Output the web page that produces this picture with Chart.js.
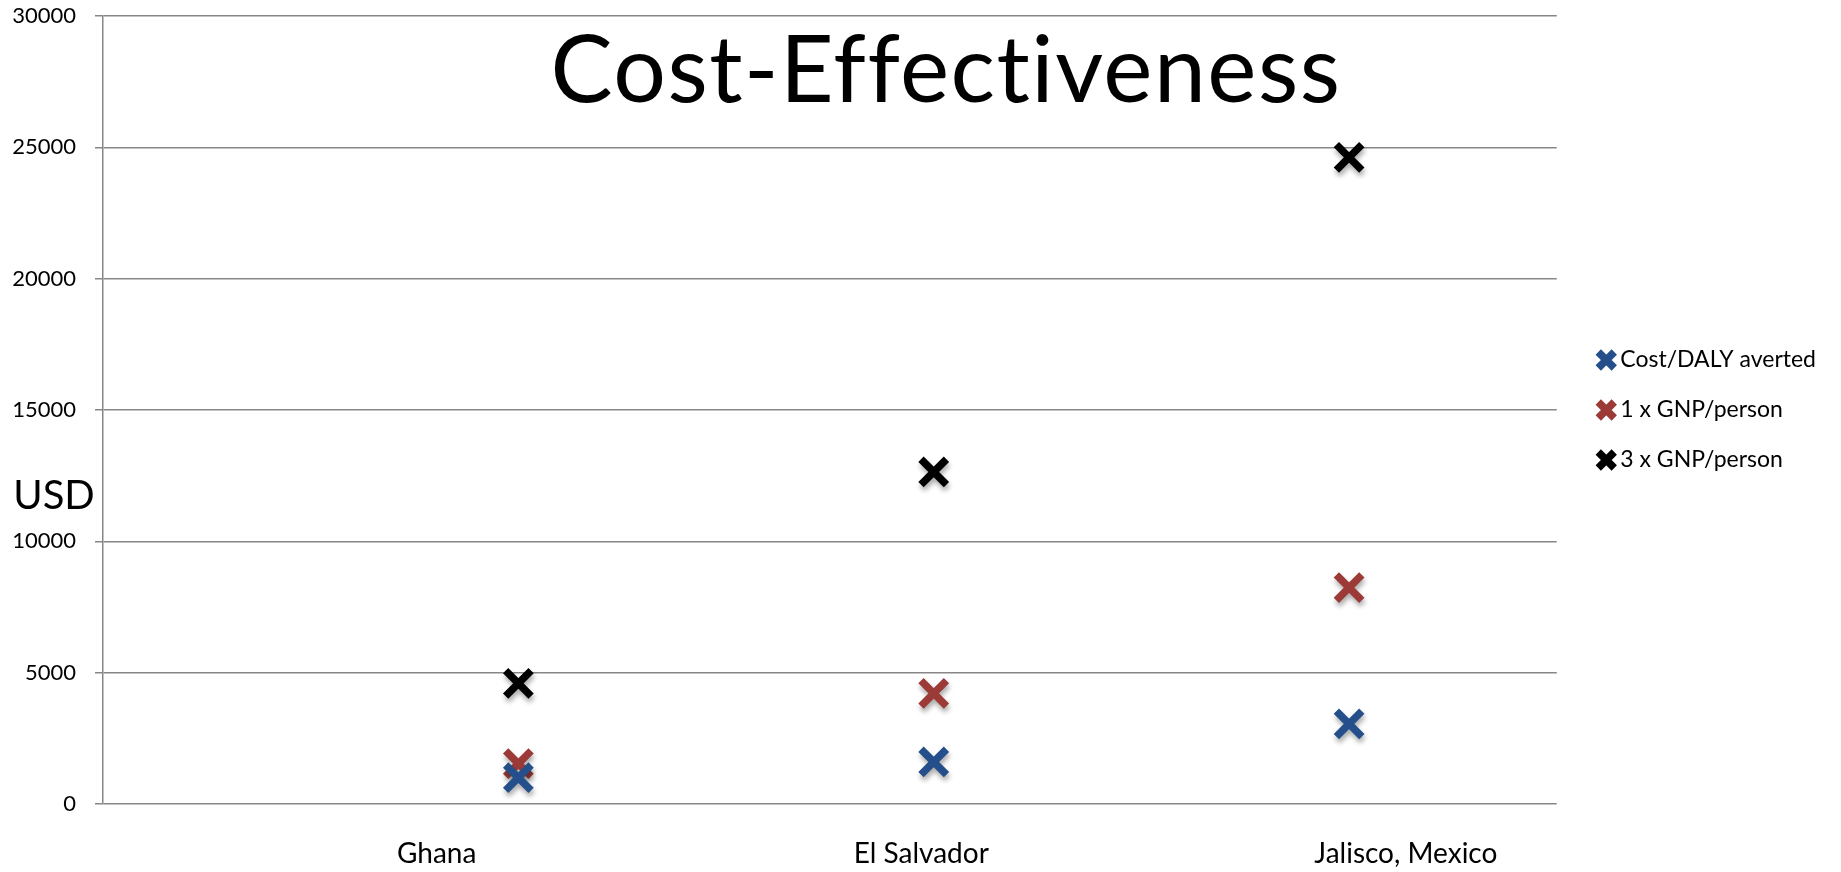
<!DOCTYPE html>
<html>
<head>
<meta charset="utf-8">
<title>Cost-Effectiveness</title>
<script src="https://cdn.jsdelivr.net/npm/chart.js@4.4.1/dist/chart.umd.min.js"></script>
<style>
  html, body { margin: 0; padding: 0; background: #ffffff; }
  #wrap { width: 1841px; height: 872px; position: relative; }
</style>
</head>
<body>
<div id="wrap"><canvas id="chart"></canvas></div>
<script>
// ---- data ----
const countries = ['Ghana', 'El Salvador', 'Jalisco, Mexico'];
const countryX = [1, 2, 3];
const costPerDaly = [1000, 1600, 3050];
const gnpOnce = [1540, 4210, 8240];
const gnpThrice = [4590, 12640, 24620];
const seriesNames = ['Cost/DALY averted', '1 x GNP/person', '3 x GNP/person'];
const yTicks = [0, 5000, 10000, 15000, 20000, 25000, 30000];

// ---- styling ----
const FONT = 'Lato, "Open Sans", sans-serif';
const GRID = '#878787';
const COLORS = ['#244f8a', '#9b3a37', '#000000'];
const X_MAX = 3.5;
const NAME_SHIFT = 0.22; // country names sit a little right of the equal thirds

function points(values) {
  return values.map((v, i) => ({ x: countryX[i], y: v }));
}

function series(name, values, color) {
  return {
    label: name,
    data: points(values),
    pointStyle: 'crossRot',
    pointRadius: 18,
    pointHoverRadius: 18,
    pointBorderWidth: 7.5,
    pointBorderColor: color,
    pointBackgroundColor: color,
    borderColor: color,
    backgroundColor: color,
    showLine: false
  };
}

// soft drop shadow under the markers
const markerShadow = {
  id: 'markerShadow',
  beforeDatasetsDraw(chart) {
    const ctx = chart.ctx;
    ctx.save();
    ctx.shadowColor = 'rgba(0,0,0,0.33)';
    ctx.shadowOffsetX = 1;
    ctx.shadowOffsetY = 4;
    ctx.shadowBlur = 5;
  },
  afterDatasetsDraw(chart) {
    chart.ctx.restore();
  }
};

// big title inside the plot and the horizontal "USD" axis caption
const captions = {
  id: 'captions',
  afterDraw(chart) {
    const ctx = chart.ctx;
    ctx.save();
    ctx.fillStyle = '#000';
    ctx.textAlign = 'center';
    ctx.textBaseline = 'alphabetic';
    ctx.font = '93px ' + FONT;
    ctx.letterSpacing = '1.5px';
    ctx.fillText('Cost-Effectiveness', 946, 102);
    ctx.letterSpacing = '0px';
    ctx.font = '40px ' + FONT;
    ctx.fillText('USD', 54, 509);
    ctx.restore();
  }
};

function noEdgePadding(scale) {
  scale.paddingTop = 0;
  scale.paddingBottom = 0;
}

new Chart(document.getElementById('chart'), {
  type: 'scatter',
  data: {
    datasets: [
      series(seriesNames[0], costPerDaly, COLORS[0]),
      series(seriesNames[1], gnpOnce, COLORS[1]),
      series(seriesNames[2], gnpThrice, COLORS[2])
    ]
  },
  plugins: [markerShadow, captions],
  options: {
    responsive: true,
    maintainAspectRatio: false,
    animation: false,
    devicePixelRatio: 1,
    layout: { autoPadding: false, padding: { top: 16, left: 0, right: 15, bottom: 0 } },
    scales: {
      x: {
        type: 'linear',
        min: 0,
        max: X_MAX,
        grid: { display: false, drawTicks: false },
        border: { display: false },
        afterBuildTicks(scale) {
          scale.ticks = countries.map((c, i) => ({ value: (i + 0.5) * X_MAX / 3 + NAME_SHIFT }));
        },
        afterFit(scale) { scale.height = 68; },
        ticks: {
          autoSkip: false,
          maxRotation: 0,
          padding: 33,
          color: '#000',
          font: { family: FONT, size: 28 },
          callback: (v, i) => countries[i]
        }
      },
      y: {
        min: 0,
        max: 30000,
        grid: { color: GRID, lineWidth: 1.5, tickLength: 8, tickColor: GRID },
        border: { display: true, color: GRID, width: 1.5 },
        afterBuildTicks(scale) {
          scale.ticks = yTicks.map(v => ({ value: v }));
        },
        afterFit(scale) {
          scale.width = 103;
          noEdgePadding(scale);
        },
        ticks: {
          padding: 19,
          color: '#000',
          font: { family: FONT, size: 22 },
          callback: v => String(v)
        }
      },
      // empty strip between the plot and the legend
      gap: {
        type: 'linear',
        position: 'right',
        display: true,
        grid: { display: false, drawTicks: false },
        border: { display: false },
        ticks: { display: false },
        afterFit(scale) {
          scale.width = 20;
          noEdgePadding(scale);
        }
      }
    },
    plugins: {
      tooltip: { enabled: false },
      title: { display: false },
      legend: {
        position: 'right',
        align: 'center',
        fullSize: false,
        labels: {
          usePointStyle: true,
          boxWidth: 5,
          boxHeight: 16,
          padding: 27,
          color: '#000',
          font: { family: FONT, size: 23 }
        }
      }
    }
  }
});
</script>
</body>
</html>
